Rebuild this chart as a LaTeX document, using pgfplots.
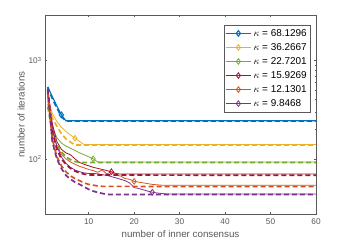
\documentclass[border=0pt]{standalone}
\usepackage{pgfplots}
\pgfplotsset{compat=1.18}
\usepackage{fontspec}
\setmainfont{Liberation Sans}
\definecolor{mBlue}{rgb}{0,0.447,0.741}
\definecolor{mYellow}{rgb}{0.929,0.694,0.125}
\definecolor{mGreen}{rgb}{0.466,0.674,0.188}
\definecolor{mRed}{rgb}{0.635,0.078,0.184}
\definecolor{mOrange}{rgb}{0.85,0.325,0.098}
\definecolor{mPurple}{rgb}{0.494,0.184,0.556}
\definecolor{axgray}{rgb}{0.35,0.35,0.35}
\begin{document}
\begin{tikzpicture}
\begin{axis}[
  name=ax,
  scale only axis,
  width=271bp, height=199bp,
  ymode=log,
  xmin=0.4, xmax=60,
  ymin=27.5, ymax=2900,
  xtick={10,20,30,40,50,60},
  ytick={100,1000},
  yticklabels={10\textsuperscript{2},10\textsuperscript{3}},
  /pgf/number format/assume math mode=true,
  tick label style={font=\fontsize{8.3}{9}\selectfont, text=axgray},
  xticklabel style={yshift=-1.5bp},
  label style={font=\fontsize{9.8}{11}\selectfont, text=axgray},
  xlabel={number of inner consensus},
  ylabel={number of iterations},
  xlabel style={yshift=1bp},
  ylabel style={yshift=-3bp},
  axis line style={axgray, line width=0.5bp},
  tick style={axgray, line width=0.4bp},
  major tick length=2.5bp,
  minor tick length=1.5bp,
  tick align=inside,
  legend style={at={(rel axis cs:0.978,0.95)}, anchor=north east,
    font=\fontsize{10}{11}\selectfont, draw=axgray, line width=0.5bp,
    inner xsep=1bp, inner ysep=2bp, row sep=1.6bp, cells={anchor=west}},
  legend image code/.code={\draw[mark repeat=2,mark phase=2] plot coordinates {(0cm,0cm) (0.45cm,0cm) (0.9cm,0cm)};},
  every axis plot/.append style={mark=diamond, mark size=2.8bp, mark options={solid, fill=none}},
]
% solid lines
\addplot[mBlue, line width=1.1bp, mark phase=1000] coordinates {(1,537)(2,430)(3,345)(4,280)(5,244)(60,244)};
\addlegendentry{$\kappa$ = 68.1296}
\addplot[mYellow, line width=0.8bp, mark phase=1000] coordinates {(1,420)(2,290)(3,240)(4,210)(5,190)(6,175)(7,162)(8,150)(9,140)(60,140)};
\addlegendentry{$\kappa$ = 36.2667}
\addplot[mGreen, line width=0.8bp, mark phase=1000] coordinates {(1,360)(2,210)(3,165)(4,145)(5,135)(6,128)(7,122)(8,115)(9,110)(10,105)(11,100)(12,93)(60,93)};
\addlegendentry{$\kappa$ = 22.7201}
\addplot[mRed, line width=0.8bp, mark phase=1000] coordinates {(1,520)(2,230)(3,150)(4,125)(5,115)(6,110)(7,100)(8,92)(9,88)(10,85)(11,82)(12,80)(13,78)(14,76)(15,74)(16,71)(17,70)(60,70)};
\addlegendentry{$\kappa$ = 15.9269}
\addplot[mOrange, line width=0.8bp, mark phase=1000] coordinates {(1,480)(2,190)(3,135)(4,112)(5,100)(6,93)(7,88)(8,84)(9,81)(10,78)(11,76)(12,73)(13,77)(14,70)(15,74)(16,68)(17,67)(18,63)(19,62)(20,59)(21,58)(22,57)(23,56)(24,55)(25,54.5)(26,54)(60,54)};
\addlegendentry{$\kappa$ = 12.1301}
\addplot[mPurple, line width=0.8bp, mark phase=1000] coordinates {(1,530)(2,210)(3,135)(4,105)(5,90)(6,82)(7,77)(8,74)(9,72)(10,71)(11,71)(12,70.5)(13,69)(14,68)(15,66)(16,64)(17,62)(18,60)(19,57)(20,51)(21,50)(22,48.5)(23,47)(24,45.8)(25,45)(26,44.5)(27,44)(60,44)};
\addlegendentry{$\kappa$ = 9.8468}
% single markers on solid lines
\addplot[forget plot, only marks, mBlue, line width=1.1bp] coordinates {(4,280)};
\addplot[forget plot, only marks, mYellow, line width=0.8bp] coordinates {(7,162)};
\addplot[forget plot, only marks, mGreen, line width=0.8bp] coordinates {(11,100)};
\addplot[forget plot, only marks, mRed, line width=0.8bp] coordinates {(15,74)};
\addplot[forget plot, only marks, mOrange, line width=0.8bp] coordinates {(20,59)};
\addplot[forget plot, only marks, mPurple, line width=0.8bp] coordinates {(24,45.8)};
% dashed lines
\addplot[forget plot, mBlue, line width=1.7bp, dash pattern=on 5bp off 3bp, no marks] coordinates {(1,537)(2,410)(3,330)(4,270)(5,242)(60,242)};
\addplot[forget plot, mYellow, line width=1.7bp, dash pattern=on 5bp off 3bp, no marks] coordinates {(1,400)(2,260)(3,215)(4,180)(5,160)(6,148)(7,138)(60,138)};
\addplot[forget plot, mGreen, line width=1.7bp, dash pattern=on 5bp off 3bp, no marks] coordinates {(1,340)(2,185)(3,140)(4,118)(5,105)(6,98)(7,94)(8,92)(60,92)};
\addplot[forget plot, mRed, line width=1.7bp, dash pattern=on 5bp off 3bp, no marks] coordinates {(1,500)(2,190)(3,125)(4,100)(5,88)(6,80)(7,75)(8,72)(9,70)(10,68.5)(60,68)};
\addplot[forget plot, mOrange, line width=1.7bp, dash pattern=on 5bp off 3bp, no marks] coordinates {(1,460)(2,160)(3,105)(4,85)(5,74)(6,67)(7,63)(8,60)(9,57)(10,55)(11,54)(12,53)(13,52.5)(60,52.3)};
\addplot[forget plot, mPurple, line width=1.7bp, dash pattern=on 5bp off 3bp, no marks] coordinates {(1,510)(2,150)(3,100)(4,80)(5,68)(6,62)(7,58)(8,55)(9,52)(10,49)(11,47)(12,45.5)(13,44.5)(14,43.5)(60,43.3)};
\end{axis}
\pgfresetboundingbox
\path[use as bounding box] ([xshift=-45bp,yshift=-28bp]ax.south west) rectangle ([xshift=33bp,yshift=15bp]ax.north east);
\end{tikzpicture}
\end{document}
